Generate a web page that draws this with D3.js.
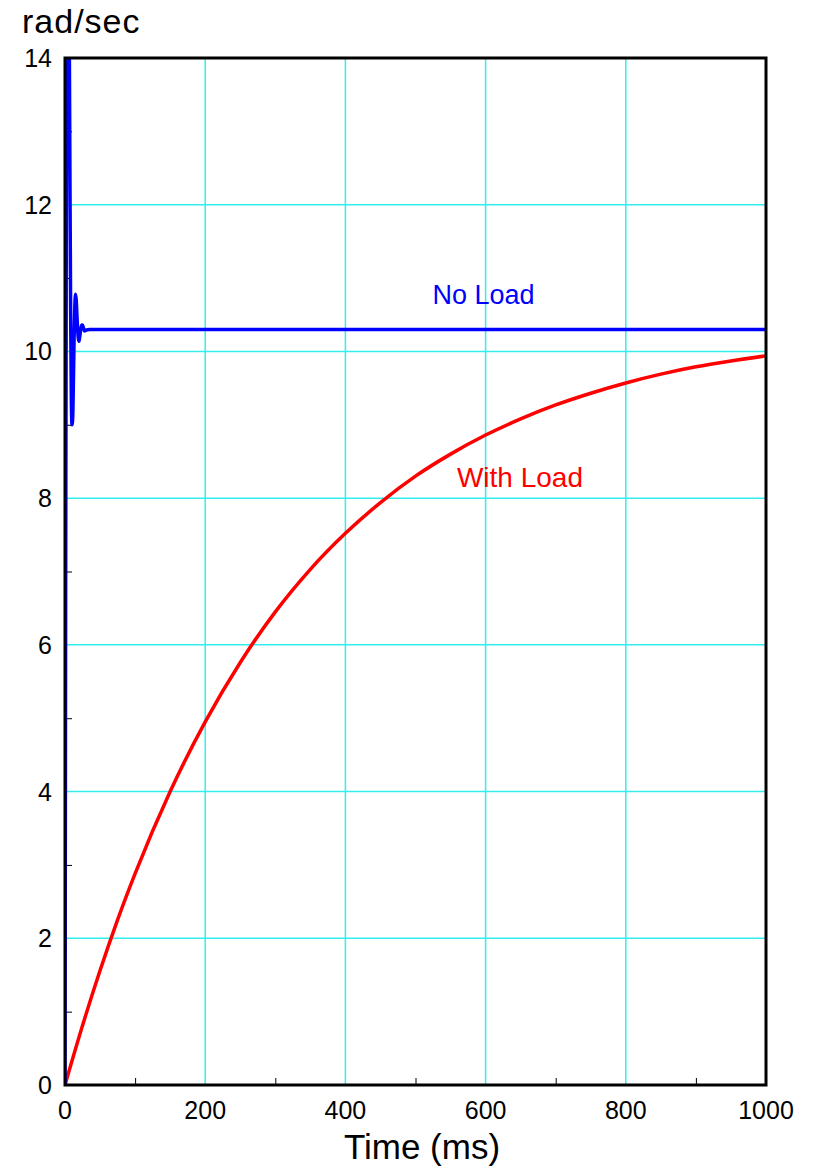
<!DOCTYPE html>
<html>
  <head>
    <meta charset="utf-8">
    <title>Motor speed response</title>
    <script src="https://d3js.org/d3.v7.min.js"></script>
    <style>
      body { margin: 0; background: white; }
      text { font-family: "Liberation Sans", Arial, sans-serif; }
      .grid line { stroke: #33eeee; stroke-width: 1.5; }
      .tick line { stroke: black; stroke-width: 1; }
      .frame { fill: none; stroke: black; stroke-width: 3; }
      .curve { fill: none; stroke-width: 3.5; stroke-linejoin: round; }
    </style>
  </head>
  <body>
    <svg id="chart" width="819" height="1168"></svg>
    <script>
      // data
      // time in ms, speed in rad/sec
      const noLoadTime = [0, 1, 2, 3, 4, 5, 6, 7, 8, 9, 10, 11, 12, 13, 14, 15, 16, 17, 18, 19, 20,
        21, 22, 23, 24, 25, 26, 27, 28, 30, 35, 40, 100, 1000];
      const noLoadSpeed = [0, 7, 12.5, 15.5, 16.5, 16, 14.5, 12.5, 10.6, 9.4, 9.0, 9.1, 9.6, 10.2, 10.6, 10.78, 10.7, 10.5, 10.3, 10.18, 10.14,
        10.2, 10.27, 10.33, 10.36, 10.36, 10.33, 10.3, 10.28, 10.29, 10.3, 10.3, 10.3, 10.3];
      const withLoadTime = [0, 25, 50, 75, 100, 150, 200, 250, 300, 350, 400, 450, 500,
        550, 600, 650, 700, 750, 800, 850, 900, 950, 1000];
      const withLoadSpeed = [0, 0.81, 1.56, 2.25, 2.88, 4.00, 4.95, 5.76, 6.45, 7.03, 7.52, 7.94, 8.30,
        8.60, 8.86, 9.08, 9.27, 9.43, 9.57, 9.69, 9.79, 9.87, 9.94];
      const xMajor = [0, 200, 400, 600, 800, 1000];
      const xMinor = [100, 300, 500, 700, 900];
      const yMajor = [0, 2, 4, 6, 8, 10, 12, 14];
      const yMinor = [1, 3, 5, 7, 9, 11, 13];

      // layout
      const svg = d3.select("#chart");
      const plotLeft = 65;
      const plotRight = 766;
      const plotTop = 58;
      const plotBottom = 1085;
      const x = d3.scaleLinear().domain([0, 1000]).range([plotLeft, plotRight]);
      const y = d3.scaleLinear().domain([0, 14]).range([plotBottom, plotTop]);

      svg.append("defs").append("clipPath")
          .attr("id", "plotClip")
        .append("rect")
          .attr("x", plotLeft)
          .attr("y", plotTop)
          .attr("width", plotRight - plotLeft)
          .attr("height", plotBottom - plotTop);

      // grid lines
      const grid = svg.append("g").classed("grid", true);
      grid.selectAll(".vGrid")
          .data(xMajor.slice(1, -1))
        .enter().append("line")
          .attr("x1", function(d) { return x(d); })
          .attr("x2", function(d) { return x(d); })
          .attr("y1", plotTop)
          .attr("y2", plotBottom);
      grid.selectAll(".hGrid")
          .data(yMajor.slice(1, -1))
        .enter().append("line")
          .attr("y1", function(d) { return y(d); })
          .attr("y2", function(d) { return y(d); })
          .attr("x1", plotLeft)
          .attr("x2", plotRight);

      // minor ticks, pointing inward
      svg.append("g")
        .attr("transform", "translate(0," + plotBottom + ")")
        .call(d3.axisTop(x).tickValues(xMinor).tickSize(7).tickFormat(""));
      svg.append("g")
        .attr("transform", "translate(" + plotLeft + ",0)")
        .call(d3.axisRight(y).tickValues(yMinor).tickSize(7).tickFormat(""));
      svg.selectAll(".domain").remove();

      // tick labels
      svg.append("g").selectAll("text")
          .data(xMajor)
        .enter().append("text")
          .attr("x", function(d) { return x(d); })
          .attr("y", plotBottom + 34)
          .attr("text-anchor", "middle")
          .style("font-size", "25px")
          .text(function(d) { return d; });
      svg.append("g").selectAll("text")
          .data(yMajor)
        .enter().append("text")
          .attr("x", plotLeft - 13)
          .attr("y", function(d) { return y(d); })
          .attr("dy", "0.36em")
          .attr("text-anchor", "end")
          .style("font-size", "25px")
          .text(function(d) { return d; });

      // curves
      const line = d3.line()
        .x(function(d) { return x(d[0]); })
        .y(function(d) { return y(d[1]); })
        .curve(d3.curveMonotoneX);
      const curves = svg.append("g").attr("clip-path", "url(#plotClip)");
      curves.append("path")
        .classed("curve", true)
        .attr("stroke", "#ff0000")
        .attr("d", line(d3.zip(withLoadTime, withLoadSpeed)));
      curves.append("path")
        .classed("curve", true)
        .attr("stroke", "#0000ff")
        .attr("d", line(d3.zip(noLoadTime, noLoadSpeed)));

      // frame
      svg.append("rect")
        .classed("frame", true)
        .attr("x", plotLeft)
        .attr("y", plotTop)
        .attr("width", plotRight - plotLeft)
        .attr("height", plotBottom - plotTop);

      // curve labels
      svg.append("text")
        .attr("x", x(597))
        .attr("y", 304)
        .attr("text-anchor", "middle")
        .attr("fill", "#0000ff")
        .style("font-size", "27px")
        .text("No Load");
      svg.append("text")
        .attr("x", x(649))
        .attr("y", 487)
        .attr("text-anchor", "middle")
        .attr("fill", "#ff0000")
        .style("font-size", "28px")
        .text("With Load");

      // axis titles
      svg.append("text")
        .attr("x", 22)
        .attr("y", 33)
        .style("font-size", "34px")
        .style("letter-spacing", "1px")
        .text("rad/sec");
      svg.append("text")
        .attr("x", 422)
        .attr("y", 1159)
        .attr("text-anchor", "middle")
        .style("font-size", "35px")
        .text("Time (ms)");
    </script>
  </body>
</html>
